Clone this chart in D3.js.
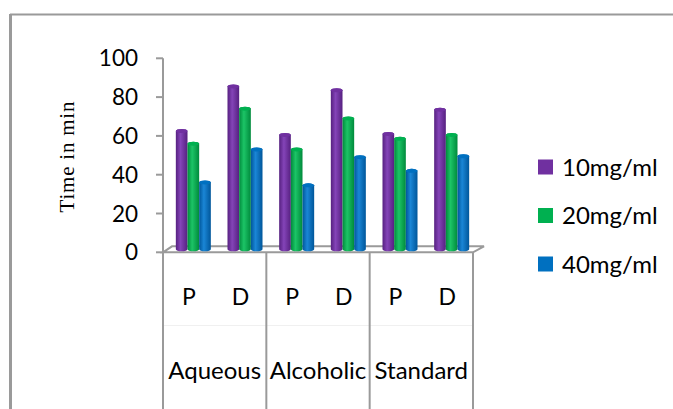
<!DOCTYPE html>
<html>
<head>
<meta charset="utf-8">
<script src="https://cdn.jsdelivr.net/npm/d3@7"></script>
<style>
  body { margin: 0; background: #fff; }
  svg { display: block; }
  text { font-family: Lato, "Open Sans", sans-serif; fill: #000; }
</style>
</head>
<body>
<svg id="chart" width="673" height="409"></svg>
<script>
// chart values
const groups = ['Aqueous', 'Alcoholic', 'Standard'];
const subs = ['P', 'D'];
const seriesNames = ['10mg/ml', '20mg/ml', '40mg/ml'];
const colors = ['#7030A0', '#00B050', '#0070C0'];
const dark = ['#562080', '#008a3c', '#00569a'];
const light = ['#8444b8', '#1cc466', '#1a86d6'];
const s10 = [62, 85, 60, 83, 60.5, 73];
const s20 = [55.5, 73.5, 52.5, 68.5, 58, 60];
const s40 = [35.5, 52.5, 34, 48.5, 41.5, 49];
const yTicks = [0, 20, 40, 60, 80, 100];

const values = [s10, s20, s40];
const cats = [];
groups.forEach(g => subs.forEach(s => cats.push(g + '|' + s)));

const svg = d3.select('#chart');
const grey = '#9a9a9a';

// outer frame
svg.append('line').attr('x1', 10).attr('x2', 673).attr('y1', 14.5).attr('y2', 14.5)
  .attr('stroke', grey).attr('stroke-width', 2);
svg.append('line').attr('x1', 10.5).attr('x2', 10.5).attr('y1', 14).attr('y2', 409)
  .attr('stroke', grey).attr('stroke-width', 3);

const y = d3.scaleLinear().domain([0, 100]).range([252.3, 58.3]);
const x = d3.scaleBand().domain(cats).range([163, 473]).padding(0);
const xg = d3.scaleBand().domain(groups).range([163, 473]).padding(0);
const xs = d3.scaleBand().domain(d3.range(3)).range([0, 35]);

const depthX = 9, depthY = -6;

// cylinder shading
const defs = svg.append('defs');
colors.forEach((c, i) => {
  const gr = defs.append('linearGradient').attr('id', 'g' + i)
    .attr('x1', 0).attr('x2', 1).attr('y1', 0).attr('y2', 0);
  gr.append('stop').attr('offset', 0).attr('stop-color', dark[i]);
  gr.append('stop').attr('offset', 0.4).attr('stop-color', light[i]);
  gr.append('stop').attr('offset', 1).attr('stop-color', dark[i]);
});

// faint divider between label rows
svg.append('line').attr('x1', 163).attr('x2', 473).attr('y1', 325.5).attr('y2', 325.5)
  .attr('stroke', '#f0f0f0').attr('stroke-width', 1);

// floor
const y0 = y(0);
svg.append('path')
  .attr('d', `M163,${y0} L${163 + depthX},${y0 + depthY} L${473 + depthX + 2},${y0 + depthY} L473,${y0} Z`)
  .attr('fill', '#fff').attr('stroke', grey).attr('stroke-width', 2);

// y axis
svg.append('line').attr('x1', 163).attr('x2', 163).attr('y1', y(100)).attr('y2', y0)
  .attr('stroke', grey).attr('stroke-width', 2);
svg.append('g').selectAll('line').data(yTicks).join('line')
  .attr('x1', 156).attr('x2', 163).attr('y1', d => y(d)).attr('y2', d => y(d))
  .attr('stroke', grey).attr('stroke-width', 2);
svg.append('g').selectAll('text').data(yTicks).join('text')
  .attr('x', 138).attr('y', d => y(d)).attr('dy', '0.36em')
  .attr('text-anchor', 'end').attr('font-size', 22.5).text(d => d);

svg.append('text')
  .attr('transform', 'translate(74,157) rotate(-90)')
  .attr('text-anchor', 'middle')
  .style('font-family', '"Liberation Serif", "Times New Roman", serif')
  .attr('font-size', 21).attr('textLength', 111).text('Time in min');

// category dividers
const bounds = groups.map(g => xg(g)).concat([473]);
svg.append('g').selectAll('line').data(bounds).join('line')
  .attr('x1', d => d).attr('x2', d => d).attr('y1', y0).attr('y2', 409)
  .attr('stroke', grey).attr('stroke-width', 2);

// bars
const bw = xs.bandwidth();
const base = y0 + depthY / 2;
values.forEach((vals, si) => {
  const g = svg.append('g');
  const bars = g.selectAll('g').data(vals).join('g')
    .attr('transform', (d, i) => `translate(${x(cats[i]) + (x.bandwidth() - 35) / 2 + depthX / 2 + xs(si)},0)`);
  bars.append('path')
    .attr('d', d => {
      const top = y(d) + depthY / 2 + 2;
      return `M0,${base} L0,${top} A${bw / 2},2 0 0 1 ${bw},${top} L${bw},${base} A${bw / 2},2 0 0 1 0,${base} Z`;
    })
    .attr('fill', `url(#g${si})`);
  bars.append('ellipse')
    .attr('cx', bw / 2).attr('cy', d => y(d) + depthY / 2 + 2)
    .attr('rx', bw / 2).attr('ry', 2)
    .attr('fill', colors[si]);
});

// category labels
svg.append('g').selectAll('text').data(cats).join('text')
  .attr('x', d => x(d) + x.bandwidth() / 2).attr('y', 297).attr('dy', '0.36em')
  .attr('text-anchor', 'middle').attr('font-size', 23).text(d => d.split('|')[1]);
svg.append('g').selectAll('text').data(groups).join('text')
  .attr('x', d => xg(d) + xg.bandwidth() / 2).attr('y', 370).attr('dy', '0.36em')
  .attr('text-anchor', 'middle').attr('font-size', 24).text(d => d);

// legend
const leg = svg.append('g').selectAll('g').data(seriesNames).join('g')
  .attr('transform', (d, i) => `translate(538,${167 + i * 48.5})`);
leg.append('rect').attr('x', 0).attr('y', -7.5).attr('width', 15).attr('height', 15)
  .attr('fill', (d, i) => colors[i]);
leg.append('text').attr('x', 24).attr('y', 0).attr('dy', '0.36em')
  .attr('font-size', 24).text(d => d);
</script>
</body>
</html>
